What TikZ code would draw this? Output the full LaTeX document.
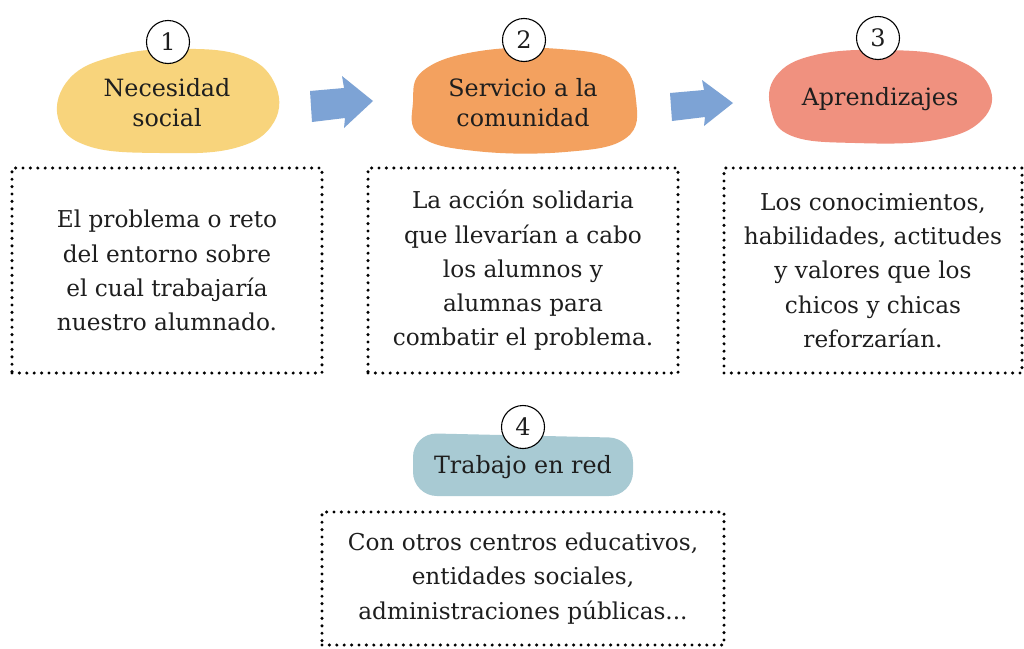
\documentclass[tikz,border=0pt]{standalone}
\usepackage{fontspec}
\setmainfont{DejaVu Serif}
\definecolor{cyel}{HTML}{F8D47C}
\definecolor{cora}{HTML}{F3A15F}
\definecolor{csal}{HTML}{F0917F}
\definecolor{cteal}{HTML}{A8CAD3}
\definecolor{carr}{HTML}{7DA3D5}
\definecolor{ctxt}{HTML}{1E1E1E}
\tikzset{
  dotbox/.style={draw=black, line width=3.4pt, dash pattern=on 0pt off 7.4pt, line cap=round, rectangle, inner sep=0pt, text=ctxt, align=center, font=\fontsize{23.2}{34.3}\selectfont},
  numcirc/.style={circle, draw=black, line width=1.1pt, fill=white, minimum size=43pt, inner sep=0pt, text=ctxt, font=\fontsize{24}{24}\selectfont},
  blobtext/.style={text=ctxt, align=center, font=\fontsize{23.8}{30}\selectfont},
  blockarrow/.style={fill=carr, draw=none}
}
\begin{document}
\begin{tikzpicture}[x=1pt,y=-1pt]
\useasboundingbox (0,0) rectangle (1024,648);
\fill[white] (0,0) rectangle (1024,648);
% blobs
\fill[cyel] plot[smooth cycle, tension=0.7] coordinates {(70,78) (115,56) (175,49) (240,55) (274,82) (274,122) (235,148) (160,153) (88,146) (58,118)};
\fill[cora] plot[smooth cycle, tension=0.7] coordinates {(424,70) (480,51) (560,49) (618,62) (636,100) (626,138) (565,152) (475,151) (420,136) (413,102)};
\fill[csal] plot[smooth cycle, tension=0.7] coordinates {(776,76) (815,55) (885,50) (952,58) (989,86) (982,120) (935,140) (855,143) (792,136) (771,110)};
\fill[cteal, rounded corners=24pt] (413,433) -- (633,438) -- (633,496) -- (413,496) -- cycle;
% block arrows
\fill[blockarrow] (310,91) -- (344,88) -- (342,76) -- (373,101) -- (344,128) -- (345,118) -- (312,122) -- cycle;
\fill[blockarrow] (670,93) -- (704,90) -- (702,80) -- (733,103) -- (704,126) -- (705,117) -- (672,121) -- cycle;
% blob labels
\node[blobtext] (t1) at (167,103) {Necesidad\\social};
\node[blobtext] (t2) at (523,103) {Servicio a la\\comunidad};
\node[blobtext] (t3) at (880,99) {Aprendizajes};
\node[blobtext] (t4) at (523,467) {Trabajo en red};
% number circles
\node[numcirc] (n1) at (168,42) {1};
\node[numcirc] (n2) at (524,40) {2};
\node[numcirc] (n3) at (878,38) {3};
\node[numcirc] (n4) at (523,427) {4};
% dotted boxes
\node[dotbox, minimum width=310pt, minimum height=205pt] (b1) at (167,270.5) {El problema o reto\\del entorno sobre\\el cual trabajaría\\nuestro alumnado.};
\node[dotbox, minimum width=310pt, minimum height=205pt] (b2) at (523,270.5) {La acción solidaria\\que llevarían a cabo\\los alumnos y\\alumnas para\\combatir el problema.};
\node[dotbox, minimum width=298pt, minimum height=205pt] (b3) at (873,270.5) {Los conocimientos,\\habilidades, actitudes\\y valores que los\\chicos y chicas\\reforzarían.};
\node[dotbox, minimum width=402pt, minimum height=133pt] (b4) at (523,578.5) {Con otros centros educativos,\\entidades sociales,\\administraciones públicas...};
\end{tikzpicture}
\end{document}
